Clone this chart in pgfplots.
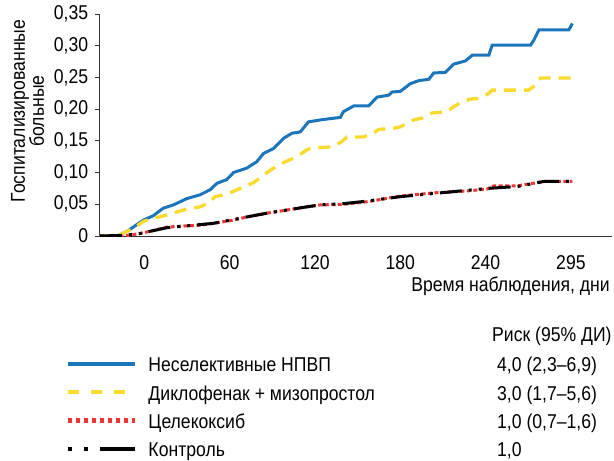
\documentclass[border=0pt]{standalone}
\usepackage{fontspec}
\setmainfont{Liberation Sans}[FakeStretch=0.88]
\usepackage{pgfplots}
\pgfplotsset{compat=1.18}
\definecolor{cblue}{RGB}{27,117,187}
\definecolor{cyellow}{RGB}{250,218,45}
\definecolor{cred}{RGB}{236,55,50}
\begin{document}
\fontsize{20bp}{22bp}\selectfont
\begin{tikzpicture}
\path[use as bounding box] (-100bp,-225bp) rectangle (514bp,236bp);
\begin{axis}[
 at={(0,0)}, anchor=south west, scale only axis, width=512bp, height=222bp,
 xmin=-31.2, xmax=328.9, ymin=0, ymax=0.35,
 axis x line=bottom, axis y line=left,
 axis line style={-, black!80, line width=1bp},
 xtick={0,60,120,180,240,300}, xticklabels={0,60,120,180,240,295},
 xtick style={draw=none},
 ytick={0,0.05,0.10,0.15,0.20,0.25,0.30,0.35},
 yticklabels={0,{0,05},{0,10},{0,15},{0,20},{0,25},{0,30},{0,35}},
 tick align=outside, major tick length=5bp,
 ytick style={black!80, line width=1bp},
 xticklabel style={anchor=north, inner sep=0pt, yshift=-14bp},
 xlabel={Время наблюдения, дни},
 xlabel style={at={(axis description cs:1,0)}, anchor=base east, inner sep=0pt, yshift=-55.7bp, xshift=-2bp},
 ylabel={Госпитализированные\\больные},
 ylabel style={at={(axis description cs:-0.1416,0.563)}, anchor=center, align=center, font=\fontsize{20bp}{19bp}\selectfont},
 legend style={at={(axis description cs:-0.0664,-0.5437)}, anchor=north west, draw=none, fill=none, inner sep=0pt, row sep=8.3bp, column sep=11bp, nodes={inner sep=0pt, text height=15bp, text depth=5bp, anchor=west}},
 legend cell align=left,
]
\addplot[cblue, line width=3bp, legend image code/.code={\draw[cblue, line width=4.3bp] (0bp,3bp) -- (67bp,3bp);}] coordinates {
(-31.2,0) (-19,0) (-12.4,0.007) (-0.7,0.025) (6.3,0.032) (13.4,0.044) (20.4,0.049) (29.9,0.059) (39.2,0.065) (46.3,0.073) (51,0.083) (58,0.089) (62.7,0.100) (72,0.107) (79,0.117) (83.8,0.130) (90.8,0.138) (97.9,0.154) (103.8,0.162) (109.6,0.164) (115.5,0.180) (123.7,0.183) (137.8,0.187) (140,0.196) (147.2,0.205) (157.7,0.205) (163.7,0.219) (171.8,0.222) (174.2,0.227) (180,0.228) (187,0.240) (193,0.245) (200,0.247) (203.5,0.257) (211.8,0.258) (217.6,0.271) (225.8,0.276) (230.6,0.285) (242.3,0.285) (244.6,0.301) (271.6,0.301) (274,0.309) (277.5,0.325) (298.6,0.325) (301,0.335)
};
\addlegendentry{Неселективные НПВП}
\addplot[cyellow, line width=3.3bp, dash pattern=on 12bp off 8bp, legend image code/.code={\draw[cyellow, line width=4.3bp, dash pattern=on 11bp off 12bp] (0bp,3bp) -- (67bp,3bp);}] coordinates {
(-31.2,0) (-19,0) (-12.4,0.007) (-7.7,0.012) (-0.7,0.023) (6.3,0.028) (15.8,0.033) (27.5,0.041) (39.2,0.046) (45,0.052) (49.8,0.062) (58,0.066) (67.4,0.075) (76.8,0.084) (83.8,0.096) (90.8,0.107) (99,0.117) (107.3,0.125) (114.4,0.136) (116.7,0.138) (133,0.141) (139,0.149) (142.5,0.156) (154,0.156) (161,0.162) (164.8,0.168) (175.4,0.170) (180,0.172) (189.4,0.183) (195.4,0.186) (202.4,0.194) (213,0.196) (217.6,0.204) (222.3,0.210) (229.4,0.216) (236.4,0.217) (242.3,0.225) (244.6,0.230) (270.4,0.230) (275.1,0.238) (278.7,0.249) (301,0.249)
};
\addlegendentry{Диклофенак + мизопростол}
\addplot[cred, line width=3bp, dash pattern=on 4bp off 2.5bp, legend image code/.code={\draw[cred, line width=4.3bp, dash pattern=on 4bp off 4bp] (0bp,3bp) -- (67bp,3bp);}] coordinates {
(-31.2,0) (-14,0) (-3,0.004) (5.2,0.008) (15.8,0.014) (29.9,0.016) (39.2,0.017) (48.6,0.020) (62.7,0.025) (72,0.030) (86.2,0.036) (100.3,0.041) (114.4,0.046) (123.7,0.049) (140,0.050) (156.6,0.054) (180,0.063) (203.5,0.068) (227,0.071) (241,0.074) (245.8,0.079) (262.3,0.079) (281,0.086) (301,0.086)
};
\addlegendentry{Целекоксиб}
\addplot[black, line width=3bp, dash pattern=on 22bp off 7bp on 3bp off 7bp on 3bp off 7bp, legend image code/.code={\draw[black, line width=4.3bp, dash pattern=on 4bp off 12bp on 4bp off 12bp on 35bp] (0bp,3bp) -- (67bp,3bp);}] coordinates {
(-31.2,0) (-14,0.001) (-3,0.004) (5.2,0.008) (15.8,0.013) (29.9,0.016) (39.2,0.018) (48.6,0.020) (62.7,0.026) (72,0.030) (86.2,0.036) (100.3,0.041) (114.4,0.046) (123.7,0.049) (140,0.051) (156.6,0.055) (180,0.062) (203.5,0.067) (227,0.072) (241,0.075) (262.3,0.078) (281,0.086) (301,0.086)
};
\addlegendentry{Контроль}
\end{axis}
\node[anchor=base west, inner sep=0pt] at (392bp,-105.7bp) {Риск (95\% ДИ)};
\node[anchor=base west, inner sep=0pt] at (397bp,-135.7bp) {4,0 (2,3–6,9)};
\node[anchor=base west, inner sep=0pt] at (397bp,-164bp) {3,0 (1,7–5,6)};
\node[anchor=base west, inner sep=0pt] at (397bp,-192.3bp) {1,0 (0,7–1,6)};
\node[anchor=base west, inner sep=0pt] at (397bp,-220.7bp) {1,0};
\end{tikzpicture}
\end{document}
